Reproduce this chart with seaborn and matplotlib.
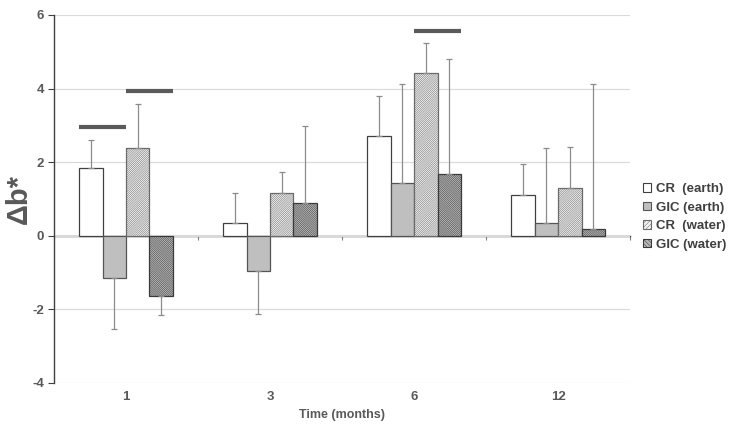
import numpy as np
import pandas as pd
import matplotlib
matplotlib.use("Agg")
import matplotlib.pyplot as plt
import matplotlib.patches as mpatches
import seaborn as sns

# Data
months = ["1", "3", "6", "12"]
groups = ["CR  (earth)", "GIC (earth)", "CR  (water)", "GIC (water)"]

cr_earth = [1.85, 0.36, 2.71, 1.10]
gic_earth = [-1.16, -0.96, 1.44, 0.35]
cr_water = [2.38, 1.16, 4.42, 1.31]
gic_water = [-1.64, 0.90, 1.68, 0.19]

cr_earth_sd = [0.74, 0.80, 1.08, 0.84]
gic_earth_sd = [1.38, 1.17, 2.68, 2.03]
cr_water_sd = [1.19, 0.57, 0.81, 1.11]
gic_water_sd = [0.50, 2.09, 3.11, 3.92]

# significance bars: month, first group, last group, height
sig_months = ["1", "1", "6"]
sig_first = [0, 2, 2]
sig_last = [1, 3, 3]
sig_heights = [2.95, 3.94, 5.57]

y_ticks = [-4, -2, 0, 2, 4, 6]

sns.set_style("white")
plt.rcParams["font.family"] = ["Liberation Sans", "DejaVu Sans"]
plt.rcParams["hatch.linewidth"] = 0.35

TXT = "#595959"
EDGE = "#404040"

values = [cr_earth, gic_earth, cr_water, gic_water]
sds = [cr_earth_sd, gic_earth_sd, cr_water_sd, gic_water_sd]
df = pd.DataFrame({
    "month": np.tile(months, len(groups)),
    "group": np.repeat(groups, len(months)),
    "value": np.concatenate(values),
})

fig = plt.figure(figsize=(7.33, 4.33), dpi=100)
ax = fig.add_axes([0.0737, 0.1155, 0.786, 0.85])

sns.barplot(data=df, x="month", y="value", hue="group", order=months,
            hue_order=groups, width=0.65, errorbar=None, ax=ax,
            palette=["white"] * 4, legend=False)

styles = [
    dict(facecolor="white", hatch=None, edge=EDGE),
    dict(facecolor="#bfbfbf", hatch=None, edge="#555555"),
    dict(facecolor="#f2f2f2", hatch="/" * 16, edge="#6a6a6a"),
    dict(facecolor="#b8b8b8", hatch="\\" * 16, edge="#3a3a3a"),
]
for cont, st in zip(ax.containers, styles):
    for bar in cont:
        bar.set_facecolor(st["facecolor"])
        bar.set_edgecolor(st["edge"])
        bar.set_linewidth(0.9)
        if st["hatch"]:
            bar.set_hatch(st["hatch"])

# one-sided error bars
for cont, vals, sd in zip(ax.containers, values, sds):
    for bar, v, e in zip(cont, vals, sd):
        x = bar.get_x() + bar.get_width() / 2
        lo = e if v < 0 else 0
        hi = e if v >= 0 else 0
        ax.errorbar(x, v, yerr=[[lo], [hi]], fmt="none", ecolor="#8c8c8c",
                    elinewidth=0.9, capsize=2, capthick=0.9, zorder=1)

# significance lines
for m, g0, g1, h in zip(sig_months, sig_first, sig_last, sig_heights):
    i = months.index(m)
    b0 = ax.containers[g0][i]
    b1 = ax.containers[g1][i]
    ax.hlines(h, b0.get_x(), b1.get_x() + b1.get_width(), color="#5a5a5a",
              lw=3, zorder=4)

ax.set_ylim(-4, 6)
ax.set_xlim(-0.5, len(months) - 0.5)
ax.set_yticks(y_ticks)
ax.set_yticklabels([str(t) for t in y_ticks])
ax.grid(axis="y", color="#d9d9d9", lw=0.8)
ax.set_axisbelow(True)

for s in ["top", "right", "bottom"]:
    ax.spines[s].set_visible(False)
ax.spines["left"].set_color(EDGE)
ax.spines["left"].set_linewidth(1)

ax.tick_params(axis="y", left=True, length=4, color=EDGE, labelsize=9.5,
               labelcolor=TXT, pad=3)
ax.tick_params(axis="x", bottom=False, length=0, labelsize=9.5,
               labelcolor=TXT, pad=6)
for lab in ax.get_xticklabels() + ax.get_yticklabels():
    lab.set_fontweight("bold")

# zero line with category boundary ticks
zero_ax = ax.secondary_xaxis(0, transform=ax.transData)
zero_ax.set_xticks(np.arange(len(months) + 1) - 0.5)
zero_ax.tick_params(length=3, width=0.8, color="#808080", labelbottom=False)
zero_ax.spines["bottom"].set_color(EDGE)
zero_ax.spines["bottom"].set_linewidth(1)

ax.set_xlabel("Time (months)", fontsize=9, fontweight="bold", color=TXT,
              labelpad=4)
ax.set_ylabel("Δb*", fontsize=21, fontweight="bold", color=TXT, labelpad=0)

handles = [mpatches.Patch(facecolor=st["facecolor"], edgecolor=st["edge"],
                          hatch=(st["hatch"][:8] if st["hatch"] else None),
                          linewidth=0.8)
           for st in styles]
fig.legend(handles, groups, loc="center left", bbox_to_anchor=(0.861, 0.499),
           frameon=False, handlelength=0.6, handleheight=0.6,
           handletextpad=0.4, labelspacing=0.5,
           prop={"size": 9.5, "weight": "bold"}, labelcolor=EDGE)

fig.savefig("out.png", dpi=100)
